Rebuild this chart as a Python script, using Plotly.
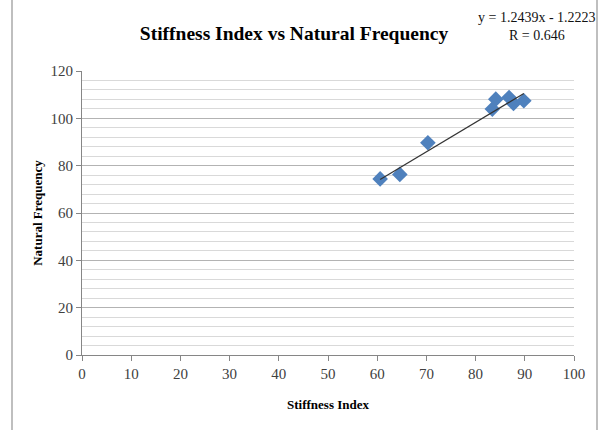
import plotly.graph_objects as go

stiffness_index = [60.6, 64.6, 70.3, 83.4, 84.1, 86.8, 87.7, 89.8]
natural_frequency = [74.4, 76.3, 89.7, 103.9, 108.1, 108.8, 106.3, 107.4]
fit_slope = [1.2439]
fit_intercept = [-1.2223]
x_ticks = [0, 10, 20, 30, 40, 50, 60, 70, 80, 90, 100]
y_ticks = [0, 20, 40, 60, 80, 100, 120]

xmin, xmax = min(stiffness_index), max(stiffness_index)
trend_x = [xmin, xmax]
trend_y = [fit_slope[0] * v + fit_intercept[0] for v in trend_x]

serif = "Liberation Serif, Times New Roman, serif"

fig = go.Figure()
fig.add_trace(go.Scatter(
    x=stiffness_index, y=natural_frequency, mode="markers",
    marker=dict(symbol="diamond", size=12, color="#4F81BD",
                line=dict(width=0)),
    showlegend=False))
fig.add_trace(go.Scatter(
    x=trend_x, y=trend_y, mode="lines",
    line=dict(color="#333333", width=1.2), showlegend=False))

fig.update_layout(
    width=600, height=430,
    margin=dict(l=82, r=26, t=71, b=75),
    paper_bgcolor="white", plot_bgcolor="white",
    font=dict(family=serif, color="#404040", size=15),
    title=dict(text="<b>Stiffness Index vs Natural Frequency</b>",
               x=294 / 600, xanchor="center", y=1 - 33 / 430, yanchor="middle",
               font=dict(family=serif, size=19.5, color="black")),
    annotations=[
        dict(text="y = 1.2439x - 1.2223<br>R = 0.646", xref="paper", yref="paper",
             x=(537 - 82) / 492, y=1 + (71 - 27) / 284, xanchor="center", yanchor="middle",
             showarrow=False, align="center",
             font=dict(family=serif, size=14, color="#111111")),
    ],
    shapes=[
        dict(type="line", xref="paper", yref="paper",
             x0=(12 - 82) / 492, x1=(12 - 82) / 492, y0=-75 / 284, y1=1 + 71 / 284,
             line=dict(color="#bfbfbf", width=2)),
        dict(type="line", xref="paper", yref="paper",
             x0=(597 - 82) / 492, x1=(597 - 82) / 492, y0=-75 / 284, y1=1 + 71 / 284,
             line=dict(color="#bfbfbf", width=2)),
    ],
)

fig.update_xaxes(
    range=[0, 100], tickvals=x_ticks, showgrid=False, zeroline=False,
    showline=True, linecolor="#868686", linewidth=1,
    ticks="outside", ticklen=5, tickcolor="#868686",
    title=dict(text="<b>Stiffness Index</b>", font=dict(family=serif, size=13, color="black"),
               standoff=18))
fig.update_yaxes(
    range=[0, 120], tickvals=y_ticks, showgrid=True, gridcolor="#b3b3b3", gridwidth=1,
    zeroline=False, showline=True, linecolor="#868686", linewidth=1,
    ticks="outside", ticklen=5, tickcolor="#868686",
    minor=dict(dtick=4, showgrid=True, gridcolor="#d9d9d9", gridwidth=1, ticks=""),
    title=dict(text="<b>Natural Frequency</b>", font=dict(family=serif, size=13, color="black"),
               standoff=4))

fig.write_html("out.html", config={"displayModeBar": False},
               post_script="document.body.style.margin='0px';")
